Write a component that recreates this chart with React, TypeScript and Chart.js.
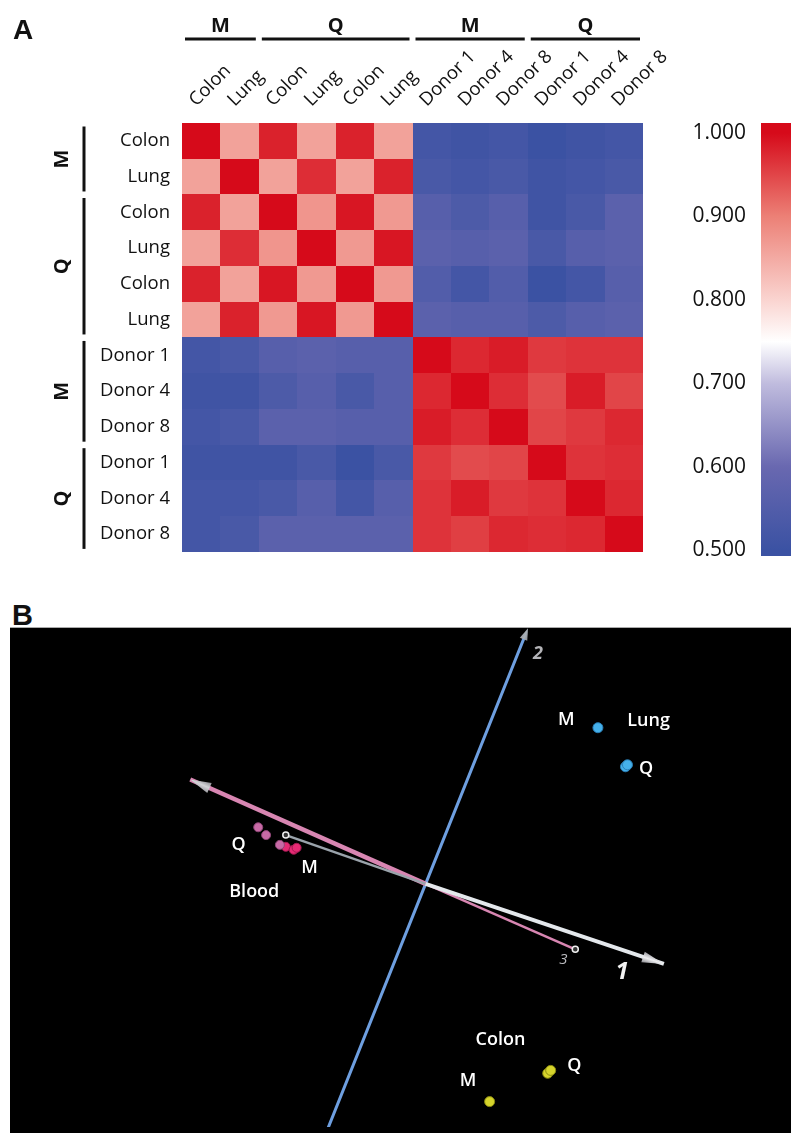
import React, { useEffect, useRef } from 'react';
import { Chart, registerables } from 'chart.js';

Chart.register(...registerables);

const FONT = '"Open Sans", "DejaVu Sans", sans-serif';

// ---------------- Panel A: correlation heatmap ----------------
const COL_LABELS = ['Colon', 'Lung', 'Colon', 'Lung', 'Colon', 'Lung', 'Donor 1', 'Donor 4', 'Donor 8', 'Donor 1', 'Donor 4', 'Donor 8'];
const ROW_LABELS = ['Colon', 'Lung', 'Colon', 'Lung', 'Colon', 'Lung', 'Donor 1', 'Donor 4', 'Donor 8', 'Donor 1', 'Donor 4', 'Donor 8'];
const GROUP_LABELS = ['M', 'Q', 'M', 'Q'];
const GROUP_FIRST = [0, 2, 6, 9];
const GROUP_LAST = [1, 5, 8, 11];

const ROW_M_COLON = [1.0, 0.86, 0.98, 0.86, 0.98, 0.86, 0.52, 0.51, 0.52, 0.50, 0.51, 0.52];
const ROW_M_LUNG = [0.86, 1.0, 0.86, 0.97, 0.86, 0.98, 0.53, 0.52, 0.53, 0.51, 0.52, 0.53];
const ROW_Q_COLON_A = [0.98, 0.86, 1.0, 0.875, 0.99, 0.87, 0.56, 0.54, 0.56, 0.51, 0.53, 0.57];
const ROW_Q_LUNG_A = [0.86, 0.97, 0.875, 1.0, 0.87, 0.99, 0.57, 0.56, 0.57, 0.53, 0.56, 0.57];
const ROW_Q_COLON_B = [0.98, 0.86, 0.99, 0.87, 1.0, 0.87, 0.55, 0.52, 0.55, 0.50, 0.52, 0.56];
const ROW_Q_LUNG_B = [0.86, 0.98, 0.87, 0.99, 0.87, 1.0, 0.57, 0.56, 0.56, 0.54, 0.56, 0.57];
const ROW_M_DONOR1 = [0.52, 0.53, 0.56, 0.57, 0.56, 0.56, 1.0, 0.975, 0.985, 0.96, 0.965, 0.965];
const ROW_M_DONOR4 = [0.51, 0.51, 0.54, 0.56, 0.53, 0.56, 0.975, 1.0, 0.97, 0.945, 0.985, 0.95];
const ROW_M_DONOR8 = [0.52, 0.53, 0.57, 0.57, 0.56, 0.56, 0.985, 0.97, 1.0, 0.95, 0.96, 0.975];
const ROW_Q_DONOR1 = [0.51, 0.51, 0.51, 0.53, 0.50, 0.53, 0.96, 0.945, 0.95, 1.0, 0.965, 0.97];
const ROW_Q_DONOR4 = [0.52, 0.52, 0.53, 0.56, 0.52, 0.56, 0.965, 0.985, 0.96, 0.965, 1.0, 0.975];
const ROW_Q_DONOR8 = [0.52, 0.53, 0.57, 0.57, 0.57, 0.57, 0.965, 0.955, 0.975, 0.97, 0.975, 1.0];
const HEAT_ROWS = [
  ROW_M_COLON, ROW_M_LUNG, ROW_Q_COLON_A, ROW_Q_LUNG_A, ROW_Q_COLON_B, ROW_Q_LUNG_B,
  ROW_M_DONOR1, ROW_M_DONOR4, ROW_M_DONOR8, ROW_Q_DONOR1, ROW_Q_DONOR4, ROW_Q_DONOR8,
];

// colour scale
const CMAP_VALUES = [0.5, 0.6, 0.7, 0.75, 0.8, 0.9, 1.0];
const CMAP_COLORS = [
  [59, 82, 163], [105, 104, 176], [192, 188, 222], [255, 255, 255],
  [250, 212, 208], [236, 128, 118], [214, 10, 26],
];
const CB_TICKS = [0.5, 0.6, 0.7, 0.8, 0.9, 1.0];
const CB_MIN = 0.493;
const CB_MAX = 1.012;

// ---------------- Panel B: 3D projection ----------------
const BLOOD_Q = [{ x: -3.4, y: 1.16 }, { x: -3.24, y: 1.0 }, { x: -2.96, y: 0.8 }];
const BLOOD_M = [{ x: -2.84, y: 0.76 }, { x: -2.68, y: 0.7 }, { x: -2.62, y: 0.74 }];
const LUNG = [{ x: 3.5, y: 3.2 }, { x: 4.06, y: 2.4 }, { x: 4.1, y: 2.44 }];
const COLON = [{ x: 1.3, y: -4.46 }, { x: 2.48, y: -3.88 }, { x: 2.54, y: -3.82 }];
const AXIS1 = [{ x: -2.84, y: 1.0 }, { x: 0, y: 0 }, { x: 4.84, y: -1.64 }];
const AXIS2 = [{ x: -2.1, y: -5.3 }, { x: 0, y: 0 }, { x: 2.08, y: 5.24 }];
const AXIS3 = [{ x: -4.78, y: 2.14 }, { x: 0, y: 0 }, { x: 3.04, y: -1.34 }];
const PCA_LABELS = [
  { text: 'Q', x: -3.8, y: 0.82 },
  { text: 'M', x: -2.36, y: 0.34 },
  { text: 'Blood', x: -3.48, y: -0.14 },
  { text: 'M', x: 2.86, y: 3.38 },
  { text: 'Lung', x: 4.53, y: 3.36 },
  { text: 'Q', x: 4.48, y: 2.38 },
  { text: 'Colon', x: 1.52, y: -3.18 },
  { text: 'Q', x: 3.02, y: -3.7 },
  { text: 'M', x: 0.86, y: -4.02 },
];
const AXIS_NAMES = [
  { text: '1', x: 3.99, y: -1.78 },
  { text: '2', x: 2.28, y: 4.74 },
  { text: '3', x: 2.8, y: -1.54 },
];
const PCA_X_RANGE = [-8.32, 7.3];
const PCA_Y_RANGE = [-4.98, 5.12];

function cmap(v: number): string {
  const n = CMAP_VALUES.length;
  if (v <= CMAP_VALUES[0]) return `rgb(${CMAP_COLORS[0].join(',')})`;
  if (v >= CMAP_VALUES[n - 1]) return `rgb(${CMAP_COLORS[n - 1].join(',')})`;
  for (let i = 0; i < n - 1; i++) {
    const a = CMAP_VALUES[i], b = CMAP_VALUES[i + 1];
    if (v >= a && v <= b) {
      const t = (v - a) / (b - a);
      const c = CMAP_COLORS[i].map((ch, k) => Math.round(ch + (CMAP_COLORS[i + 1][k] - ch) * t));
      return `rgb(${c.join(',')})`;
    }
  }
  return '#000';
}

const heatPlugin = {
  id: 'heatCells',
  beforeDatasetsDraw(chart: any) {
    const { ctx } = chart;
    const xs = chart.scales.x, ys = chart.scales.y;
    const pts = chart.data.datasets[0].data as any[];
    ctx.save();
    pts.forEach((p) => {
      const x0 = Math.round(xs.getPixelForValue(p.x - 0.5));
      const x1 = Math.round(xs.getPixelForValue(p.x + 0.5));
      const ya = Math.round(ys.getPixelForValue(p.y - 0.5));
      const yb = Math.round(ys.getPixelForValue(p.y + 0.5));
      ctx.fillStyle = cmap(p.v);
      ctx.fillRect(x0, Math.min(ya, yb), x1 - x0, Math.abs(yb - ya));
    });
    ctx.restore();
  },
  afterDraw(chart: any) {
    const { ctx, chartArea } = chart;
    const xs = chart.scales.x, ys = chart.scales.y;
    ctx.save();
    // rotated column labels
    ctx.fillStyle = '#111';
    ctx.font = `18.5px ${FONT}`;
    ctx.textAlign = 'left';
    ctx.textBaseline = 'alphabetic';
    COL_LABELS.forEach((lab, c) => {
      const cx = xs.getPixelForValue(c);
      ctx.save();
      ctx.translate(cx - 5, chartArea.top - 16);
      ctx.rotate(-Math.PI / 4);
      ctx.fillText(lab, 0, 0);
      ctx.restore();
    });
    // column group brackets
    ctx.strokeStyle = '#111';
    ctx.lineWidth = 3;
    ctx.font = `bold 20px ${FONT}`;
    ctx.textAlign = 'center';
    ctx.textBaseline = 'middle';
    GROUP_LABELS.forEach((g, i) => {
      const a = xs.getPixelForValue(GROUP_FIRST[i] - 0.5) + 3;
      const b = xs.getPixelForValue(GROUP_LAST[i] + 0.5) - 3;
      ctx.beginPath();
      ctx.moveTo(a, 39);
      ctx.lineTo(b, 39);
      ctx.stroke();
      ctx.fillText(g, (a + b) / 2, 26);
    });
    // row group brackets
    GROUP_LABELS.forEach((g, i) => {
      const a = ys.getPixelForValue(GROUP_FIRST[i] - 0.5) + 3.5;
      const b = ys.getPixelForValue(GROUP_LAST[i] + 0.5) - 3;
      ctx.beginPath();
      ctx.moveTo(84, a);
      ctx.lineTo(84, b);
      ctx.stroke();
      ctx.save();
      ctx.translate(62, (a + b) / 2);
      ctx.rotate(-Math.PI / 2);
      ctx.fillText(g, 0, 0);
      ctx.restore();
    });
    ctx.restore();
  },
};

const pcaPlugin = {
  id: 'pcaDecor',
  afterDatasetsDraw(chart: any) {
    const { ctx } = chart;
    const xs = chart.scales.x, ys = chart.scales.y;
    const px = (p: { x: number; y: number }) => ({ x: xs.getPixelForValue(p.x), y: ys.getPixelForValue(p.y) });
    const arrows = [
      { tip: AXIS3[0], from: AXIS3[1], len: 21, half: 5.5, color: '#d4d4d8' },
      { tip: AXIS1[2], from: AXIS1[1], len: 22, half: 5.5, color: '#f0f0f2' },
      { tip: AXIS2[2], from: AXIS2[1], len: 12, half: 4, color: '#a8b0b8' },
    ];
    ctx.save();
    arrows.forEach((a) => {
      const p = px(a.tip), q = px(a.from);
      const dx = p.x - q.x, dy = p.y - q.y;
      const l = Math.hypot(dx, dy);
      const ux = dx / l, uy = dy / l;
      const bx = p.x - ux * a.len, by = p.y - uy * a.len;
      const grad = ctx.createLinearGradient(bx - uy * a.half, by + ux * a.half, bx + uy * a.half, by - ux * a.half);
      grad.addColorStop(0, '#8a8a90');
      grad.addColorStop(0.5, a.color);
      grad.addColorStop(1, '#9a9aa0');
      ctx.fillStyle = grad;
      ctx.beginPath();
      ctx.moveTo(p.x, p.y);
      ctx.lineTo(bx - uy * a.half, by + ux * a.half);
      ctx.lineTo(bx + uy * a.half, by - ux * a.half);
      ctx.closePath();
      ctx.fill();
    });
    // group labels
    ctx.fillStyle = '#ffffff';
    ctx.font = `600 18px ${FONT}`;
    ctx.textAlign = 'center';
    ctx.textBaseline = 'middle';
    PCA_LABELS.forEach((l) => {
      const p = px(l);
      ctx.fillText(l.text, p.x, p.y + 1);
    });
    // axis numbers
    const axisStyles = [
      { font: `italic bold 24px ${FONT}`, color: '#f2f2f2' },
      { font: `italic bold 18px ${FONT}`, color: '#b4b4b8' },
      { font: `italic 15px ${FONT}`, color: '#bcbcc0' },
    ];
    AXIS_NAMES.forEach((l, i) => {
      const p = px(l);
      ctx.font = axisStyles[i].font;
      ctx.fillStyle = axisStyles[i].color;
      ctx.fillText(l.text, p.x, p.y + 1);
    });
    ctx.restore();
  },
};

export default function App() {
  const heatRef = useRef<HTMLCanvasElement>(null);
  const cbRef = useRef<HTMLCanvasElement>(null);
  const pcaRef = useRef<HTMLCanvasElement>(null);

  useEffect(() => {
    const charts: Chart[] = [];
    const heatData: { x: number; y: number; v: number }[] = [];
    HEAT_ROWS.forEach((row, r) => row.forEach((v, c) => heatData.push({ x: c, y: r, v })));

    if (heatRef.current) {
      charts.push(
        new Chart(heatRef.current, {
          type: 'scatter',
          data: { datasets: [{ data: heatData as any, pointRadius: 0, pointHoverRadius: 0 }] },
          options: {
            responsive: false,
            animation: false,
            events: [],
            layout: { padding: { top: 0, left: 0, right: 148, bottom: 21 } },
            plugins: { legend: { display: false }, tooltip: { enabled: false } },
            scales: {
              x: {
                type: 'linear', position: 'top', min: -0.5, max: 11.5,
                grid: { display: false, drawTicks: false }, border: { display: false },
                ticks: { display: false },
                afterFit: (s: any) => { s.height = 123; },
              },
              y: {
                type: 'linear', position: 'left', reverse: true, min: -0.5, max: 11.5,
                grid: { display: false, drawTicks: false }, border: { display: false },
                afterBuildTicks: (s: any) => { s.ticks = ROW_LABELS.map((_, i) => ({ value: i })); },
                ticks: {
                  autoSkip: false, padding: 12, color: '#111',
                  font: { family: FONT, size: 18.5 },
                  callback: (v: any) => ROW_LABELS[Number(v)],
                },
                afterFit: (s: any) => { s.width = 182; },
              },
            },
          } as any,
          plugins: [heatPlugin],
        })
      );
    }

    if (cbRef.current) {
      const first = CMAP_VALUES[0], last = CMAP_VALUES[CMAP_VALUES.length - 1];
      charts.push(
        new Chart(cbRef.current, {
          type: 'bar',
          data: {
            labels: [''],
            datasets: [{
              data: [[CB_MIN, CB_MAX]] as any,
              borderWidth: 0,
              barPercentage: 1,
              categoryPercentage: 1,
              backgroundColor: (c: any) => {
                const chart = c.chart;
                const ys = chart.scales.y;
                if (!ys || !chart.chartArea) return 'rgba(0,0,0,0)';
                const g = chart.ctx.createLinearGradient(0, ys.getPixelForValue(first), 0, ys.getPixelForValue(last));
                CMAP_VALUES.forEach((v, i) => g.addColorStop((v - first) / (last - first), `rgb(${CMAP_COLORS[i].join(',')})`));
                return g;
              },
            }],
          },
          options: {
            responsive: false,
            animation: false,
            events: [],
            layout: { padding: { top: 123, bottom: 44, left: 0, right: 0 } },
            plugins: { legend: { display: false }, tooltip: { enabled: false } },
            scales: {
              x: { display: false },
              y: {
                position: 'left', min: CB_MIN, max: CB_MAX,
                grid: { display: false, drawTicks: false }, border: { display: false },
                afterBuildTicks: (s: any) => { s.ticks = CB_TICKS.map((v) => ({ value: v })); },
                ticks: {
                  padding: 15, color: '#111', autoSkip: false,
                  font: { family: FONT, size: 21 },
                  callback: (v: any) => Number(v).toFixed(3),
                },
                afterFit: (s: any) => { s.width = 111; },
              },
            },
          } as any,
        })
      );
    }

    if (pcaRef.current) {
      charts.push(
        new Chart(pcaRef.current, {
          type: 'scatter',
          data: {
            datasets: [
              { label: 'Blood Q', data: BLOOD_Q, backgroundColor: '#c86aa6', borderColor: '#8e4676', borderWidth: 1, pointRadius: 4.5, order: 0 },
              { label: 'Blood M', data: BLOOD_M, backgroundColor: '#e62a74', borderColor: '#a01a50', borderWidth: 1, pointRadius: 4.5, order: 0 },
              { label: 'Lung', data: LUNG, backgroundColor: '#45b0ea', borderColor: '#2a7fb8', borderWidth: 1, pointRadius: 5, order: 0 },
              { label: 'Colon', data: COLON, backgroundColor: '#d6d42c', borderColor: '#8a8a10', borderWidth: 1, pointRadius: 5, order: 0 },
              {
                label: 'Axis 1', data: AXIS1, showLine: true, borderColor: '#e4e8ec', borderWidth: 3,
                segment: {
                  borderColor: (c: any) => (c.p0DataIndex === 0 ? '#9aa3ab' : '#e4e8ec'),
                  borderWidth: (c: any) => (c.p0DataIndex === 0 ? 2.5 : 4),
                },
                pointRadius: [3, 0, 0], pointBackgroundColor: '#333', pointBorderColor: '#f0f0f0', pointBorderWidth: 1.5,
                order: 1,
              },
              {
                label: 'Axis 3', data: AXIS3, showLine: true, borderColor: '#d886b2', borderWidth: 3,
                segment: { borderWidth: (c: any) => (c.p0DataIndex === 0 ? 4.5 : 2.5) },
                pointRadius: [0, 0, 3], pointBackgroundColor: '#333', pointBorderColor: '#f0f0f0', pointBorderWidth: 1.5,
                order: 2,
              },
              { label: 'Axis 2', data: AXIS2, showLine: true, borderColor: '#6e9fe0', borderWidth: 3, pointRadius: 0, order: 3 },
            ],
          } as any,
          options: {
            responsive: false,
            animation: false,
            events: [],
            layout: { padding: 0 },
            plugins: { legend: { display: false }, tooltip: { enabled: false } },
            scales: {
              x: { type: 'linear', display: false, min: PCA_X_RANGE[0], max: PCA_X_RANGE[1] },
              y: { type: 'linear', display: false, min: PCA_Y_RANGE[0], max: PCA_Y_RANGE[1] },
            },
          } as any,
          plugins: [pcaPlugin],
        })
      );
    }

    return () => charts.forEach((c) => c.destroy());
  }, []);

  return (
    <div style={{ position: 'absolute', left: 0, top: 0, width: 791, height: 1133, background: '#fff', overflow: 'hidden' }}>
      <canvas ref={heatRef} width={791} height={575} style={{ position: 'absolute', left: 0, top: 0, width: 791, height: 575 }} />
      <canvas ref={cbRef} width={141} height={600} style={{ position: 'absolute', left: 650, top: 0, width: 141, height: 600 }} />
      <div style={{ position: 'absolute', left: 13, top: 16, fontFamily: '"Liberation Sans", Arial, sans-serif', fontWeight: 'bold', fontSize: 28, lineHeight: '28px', color: '#111' }}>A</div>
      <div style={{ position: 'absolute', left: 12, top: 601, fontFamily: '"Liberation Sans", Arial, sans-serif', fontWeight: 'bold', fontSize: 29, lineHeight: '29px', color: '#111' }}>B</div>
      <div style={{ position: 'absolute', left: 10, top: 627, width: 781, height: 1, background: '#aaa' }} />
      <canvas ref={pcaRef} width={781} height={505} style={{ position: 'absolute', left: 10, top: 628, width: 781, height: 505, background: '#000' }} />
    </div>
  );
}
